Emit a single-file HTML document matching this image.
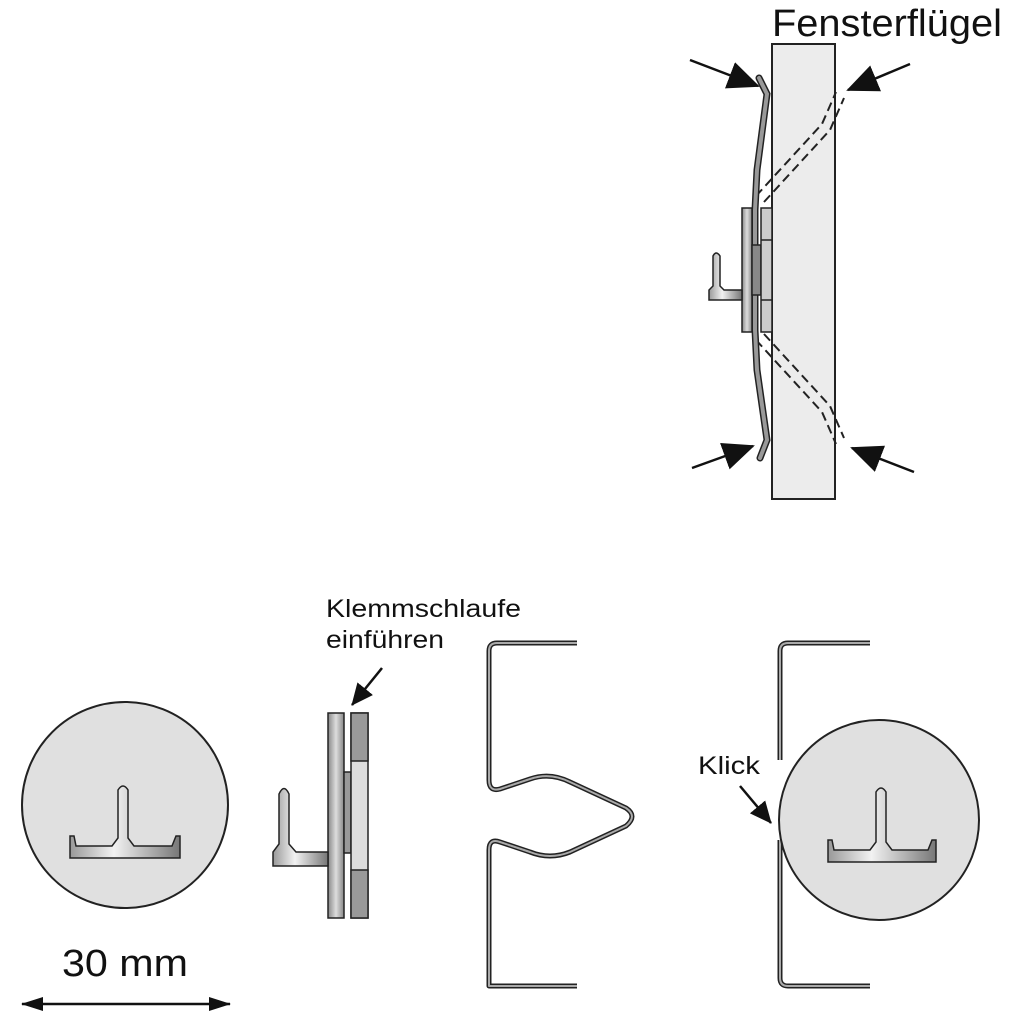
<!DOCTYPE html>
<html><head><meta charset="utf-8"><style>html,body{margin:0;padding:0;background:#fff}svg{display:block}</style></head><body>
<svg width="1024" height="1024" viewBox="0 0 1024 1024" xmlns="http://www.w3.org/2000/svg">
<defs>
<linearGradient id="g1" x1="0" x2="1"><stop offset="0" stop-color="#888"/><stop offset="0.5" stop-color="#ddd"/><stop offset="1" stop-color="#888"/></linearGradient>
<linearGradient id="g2" x1="0" x2="1"><stop offset="0" stop-color="#999"/><stop offset="0.4" stop-color="#f2f2f2"/><stop offset="1" stop-color="#777"/></linearGradient>
<marker id="ah" markerWidth="32" markerHeight="28" refX="30" refY="14" orient="auto" markerUnits="userSpaceOnUse" viewBox="0 0 32 28"><path d="M0,0 L32,14 L0,28 z" fill="#111"/></marker>
<marker id="am" markerWidth="22" markerHeight="20" refX="21" refY="10" orient="auto" markerUnits="userSpaceOnUse" viewBox="0 0 22 20"><path d="M0,0 L22,10 L0,20 z" fill="#111"/></marker>
<marker id="as" markerWidth="22" markerHeight="14" refX="21" refY="7" orient="auto-start-reverse" markerUnits="userSpaceOnUse" viewBox="0 0 22 14"><path d="M0,0 L22,7 L0,14 z" fill="#111"/></marker>
</defs>
<text x="772" y="36" font-family="Liberation Sans, sans-serif" font-size="38" textLength="230" lengthAdjust="spacingAndGlyphs" fill="#111">Fensterflügel</text>
<rect x="772" y="44" width="63" height="455" fill="#ececec" stroke="#222" stroke-width="2"/>
<g fill="none" stroke="#222" stroke-width="2" stroke-dasharray="9,5">
<path d="M756,196 L822,124 L836,92"/><path d="M764,202 L830,130 L844,98"/>
<path d="M756,340 L822,412 L836,444"/><path d="M764,334 L830,406 L844,438"/>
</g>
<path d="M759,78 L767,94 L757,170 L755,210 L755,330 L757,370 L767,440 L760,458" fill="none" stroke="#222" stroke-width="7" stroke-linecap="round"/>
<path d="M759,78 L767,94 L757,170 L755,210 L755,330 L757,370 L767,440 L760,458" fill="none" stroke="#999" stroke-width="4" stroke-linecap="round"/>
<rect x="742" y="208" width="10" height="124" fill="url(#g1)" stroke="#222" stroke-width="1.5"/>
<rect x="752" y="245" width="9" height="50" fill="#888" stroke="#222" stroke-width="1.5"/>
<rect x="761" y="208" width="11" height="124" fill="#ccc" stroke="#222" stroke-width="1.5"/>
<line x1="761" y1="240" x2="772" y2="240" stroke="#222" stroke-width="1.5"/><line x1="761" y1="300" x2="772" y2="300" stroke="#222" stroke-width="1.5"/>
<path d="M709,300 L709,290 L713,286 L713,256 Q716,250 720,256 L720,286 L724,290 L742,290 L742,300 Z" fill="url(#g2)" stroke="#222" stroke-width="1.5"/>
<g stroke="#111" stroke-width="2.5">
<line x1="690" y1="60" x2="758" y2="86" marker-end="url(#ah)"/>
<line x1="910" y1="64" x2="848" y2="90" marker-end="url(#ah)"/>
<line x1="692" y1="468" x2="753" y2="446" marker-end="url(#ah)"/>
<line x1="914" y1="472" x2="852" y2="448" marker-end="url(#ah)"/>
</g>
<circle cx="125" cy="805" r="103" fill="#e0e0e0" stroke="#222" stroke-width="2"/>
<path d="M70,858 L70,836 L74,836 L76,846 L112,846 L118,838 L118,790 Q123,782 128,790 L128,838 L134,846 L172,846 L176,836 L180,836 L180,858 Z" fill="url(#g2)" stroke="#222" stroke-width="1.5"/>
<text x="62" y="976" font-family="Liberation Sans, sans-serif" font-size="38" textLength="126" lengthAdjust="spacingAndGlyphs" fill="#111">30 mm</text>
<line x1="22" y1="1004" x2="230" y2="1004" stroke="#111" stroke-width="2.5" marker-end="url(#as)" marker-start="url(#as)"/>
<text font-family="Liberation Sans, sans-serif" font-size="25" fill="#111"><tspan x="326" y="617" textLength="195" lengthAdjust="spacingAndGlyphs">Klemmschlaufe</tspan><tspan x="326" y="648" textLength="118" lengthAdjust="spacingAndGlyphs">einführen</tspan></text>
<line x1="382" y1="668" x2="352" y2="705" stroke="#111" stroke-width="2.5" marker-end="url(#am)"/>
<rect x="328" y="713" width="16" height="205" fill="url(#g1)" stroke="#222" stroke-width="1.5"/>
<rect x="344" y="772" width="7" height="81" fill="#999" stroke="#222" stroke-width="1.5"/>
<rect x="351" y="713" width="17" height="205" fill="#ddd" stroke="#222" stroke-width="1.5"/>
<rect x="351" y="713" width="17" height="48" fill="#999" stroke="#222" stroke-width="1.5"/>
<rect x="351" y="870" width="17" height="48" fill="#999" stroke="#222" stroke-width="1.5"/>
<path d="M273,866 L273,852 L279,844 L279,794 Q284,783 289,794 L289,844 L296,852 L328,852 L328,866 Z" fill="url(#g2)" stroke="#222" stroke-width="1.5"/>
<g fill="none" stroke-linecap="butt" stroke-linejoin="round">
<path d="M577,643 L497,643 Q489,643 489,651 L489,780 Q489,792 500,789 L530,779 Q550,772 570,782 L626,808 Q638,816 626,826 L570,852 Q550,860 530,852 L500,842 Q489,838 489,850 L489,986 L577,986" stroke="#222" stroke-width="5"/>
<path d="M577,643 L497,643 Q489,643 489,651 L489,780 Q489,792 500,789 L530,779 Q550,772 570,782 L626,808 Q638,816 626,826 L570,852 Q550,860 530,852 L500,842 Q489,838 489,850 L489,986 L577,986" stroke="#aaa" stroke-width="2"/>
<path d="M870,643 L788,643 Q780,643 780,651 L780,760 M780,840 L780,978 Q780,986 788,986 L870,986" stroke="#222" stroke-width="5"/>
<path d="M870,643 L788,643 Q780,643 780,651 L780,760 M780,840 L780,978 Q780,986 788,986 L870,986" stroke="#aaa" stroke-width="2"/>
</g>
<circle cx="879" cy="820" r="100" fill="#e0e0e0" stroke="#222" stroke-width="2"/>
<path d="M828,862 L828,840 L832,840 L834,850 L870,850 L876,842 L876,792 Q881,784 886,792 L886,842 L892,850 L928,850 L932,840 L936,840 L936,862 Z" fill="url(#g2)" stroke="#222" stroke-width="1.5"/>
<text x="698" y="774" font-family="Liberation Sans, sans-serif" font-size="25" textLength="62" lengthAdjust="spacingAndGlyphs" fill="#111">Klick</text>
<line x1="740" y1="786" x2="771" y2="823" stroke="#111" stroke-width="2.5" marker-end="url(#am)"/>
</svg>
</body></html>
